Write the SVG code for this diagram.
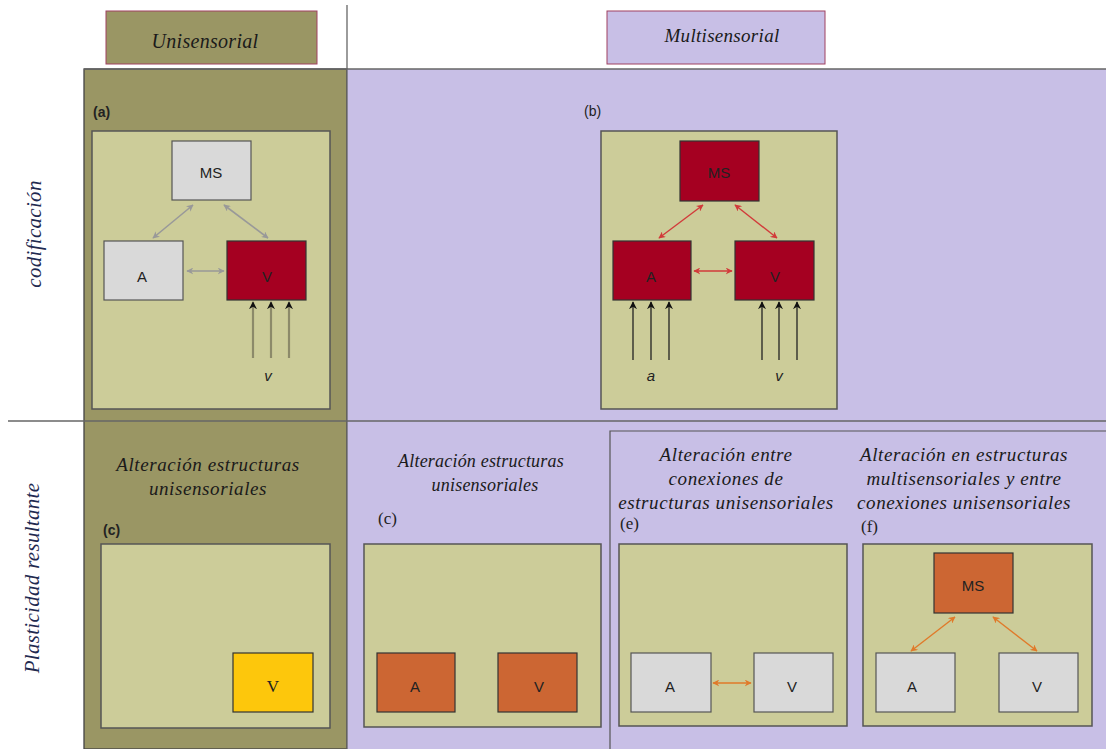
<svg xmlns="http://www.w3.org/2000/svg" width="1106" height="749" viewBox="0 0 1106 749">
  <style>
    .title { font-family: "Liberation Serif", serif; font-style: italic; font-size: 20px; letter-spacing: 0.3px; fill: #1a1a1a; text-anchor: middle; }
    .cap { font-family: "Liberation Serif", serif; font-style: italic; font-size: 19px; letter-spacing: 0.6px; fill: #1a1a1a; text-anchor: middle; }
    .cap-s { font-size: 18px; letter-spacing: 0.2px; }
    .side { font-family: "Liberation Serif", serif; font-style: italic; font-size: 21px; letter-spacing: 0.3px; fill: #1f2a50; text-anchor: middle; }
    .tag { font-family: "Liberation Sans", Arial, sans-serif; font-weight: bold; font-size: 14px; fill: #222; }
    .tagr { font-family: "Liberation Serif", serif; font-size: 17px; fill: #222; }
    .lbl { font-family: "Liberation Sans", Arial, sans-serif; font-size: 15px; fill: #222; text-anchor: middle; }
    .lbls { font-family: "Liberation Serif", serif; font-size: 17px; fill: #222; text-anchor: middle; }
    .inl { font-family: "Liberation Sans", Arial, sans-serif; font-style: italic; font-size: 15px; fill: #222; text-anchor: middle; }
    .frame { fill: #cccc99; stroke: #555; stroke-width: 1.5; }
    .grey { fill: #d9d9d9; stroke: #555; stroke-width: 1.2; }
    .red { fill: #a50021; stroke: #333; stroke-width: 1.2; }
    .orange { fill: #cc6633; stroke: #333; stroke-width: 1.2; }
    .yellow { fill: #fdc70c; stroke: #333; stroke-width: 1.2; }
    .c-grey { stroke: #999; stroke-width: 1.6; fill: none; marker-start: url(#hg); marker-end: url(#hg); }
    .c-red { stroke: #d23a3a; stroke-width: 1.4; fill: none; marker-start: url(#hr); marker-end: url(#hr); }
    .c-or { stroke: #e07a2a; stroke-width: 1.4; fill: none; marker-start: url(#ho); marker-end: url(#ho); }
    .in-a { stroke: #8c8a6a; stroke-width: 2.2; fill: none; marker-end: url(#hk); }
    .in-b { stroke: #222; stroke-width: 1.3; fill: none; marker-end: url(#hk); }
    .rule { stroke: #666; stroke-width: 1.3; fill: none; }
  </style>
  <defs>
    <marker id="hg" viewBox="0 0 10 10" refX="9" refY="5" markerWidth="7" markerHeight="7" markerUnits="userSpaceOnUse" orient="auto-start-reverse">
      <path d="M0,0 L10,5 L0,10 L3,5 Z" fill="#999"/>
    </marker>
    <marker id="hr" viewBox="0 0 10 10" refX="9" refY="5" markerWidth="7" markerHeight="7" markerUnits="userSpaceOnUse" orient="auto-start-reverse">
      <path d="M0,0 L10,5 L0,10 L3,5 Z" fill="#d23a3a"/>
    </marker>
    <marker id="ho" viewBox="0 0 10 10" refX="9" refY="5" markerWidth="7" markerHeight="7" markerUnits="userSpaceOnUse" orient="auto-start-reverse">
      <path d="M0,0 L10,5 L0,10 L3,5 Z" fill="#e07a2a"/>
    </marker>
    <marker id="hk" viewBox="0 0 10 10" refX="9" refY="5" markerWidth="8" markerHeight="8" markerUnits="userSpaceOnUse" orient="auto">
      <path d="M0,0 L10,5 L0,10 L3,5 Z" fill="#111"/>
    </marker>
  </defs>

  <rect x="0" y="0" width="1106" height="749" fill="#ffffff"/>

  <!-- column backgrounds -->
  <rect x="84" y="69" width="263" height="680" fill="#9a9664" stroke="#444" stroke-width="1.3"/>
  <rect x="347" y="69" width="759" height="680" fill="#c8bfe6"/>
  <line class="rule" x1="347" y1="5" x2="347" y2="749"/>
  <line class="rule" x1="84" y1="69" x2="1106" y2="69"/>
  <line class="rule" x1="8" y1="421" x2="1106" y2="421"/>
  <path d="M1106,431 H610 V749" fill="none" stroke="#555" stroke-width="1.2"/>

  <!-- column headers -->
  <g id="hdr-uni">
    <rect x="106" y="11" width="211" height="53" fill="#9a9664" stroke="#a04060" stroke-width="1"/>
    <text class="title" x="205" y="48">Unisensorial</text>
  </g>
  <g id="hdr-multi">
    <rect x="607" y="11" width="218" height="53" fill="#c8bfe6" stroke="#a04060" stroke-width="1"/>
    <text class="title" x="722" y="42" style="font-size:19px">Multisensorial</text>
  </g>

  <!-- row headers -->
  <text class="side" transform="translate(41,234) rotate(-90)">codificación</text>
  <text class="side" transform="translate(39,578) rotate(-90)">Plasticidad resultante</text>

  <!-- panel (a) -->
  <g id="panel-a">
    <text class="tag" x="93" y="117">(a)</text>
    <rect class="frame" x="92" y="131" width="238" height="278"/>
  </g>
  <g id="a-ms"><rect class="grey" x="172" y="141" width="79" height="59"/><text class="lbl" x="211" y="178">MS</text></g>
  <g id="a-a"><rect class="grey" x="104" y="241" width="79" height="59"/><text class="lbl" x="142" y="282">A</text></g>
  <g id="a-v"><rect class="red" x="227" y="241" width="79" height="59"/><text class="lbl" x="267" y="282">V</text></g>
  <text class="inl" x="268" y="381">v</text>

  <!-- panel (b) -->
  <g id="panel-b">
    <text class="tagr" x="584" y="116" style="font-family:'Liberation Sans',Arial,sans-serif;font-size:14px">(b)</text>
    <rect class="frame" x="601" y="131" width="236" height="278"/>
  </g>
  <g id="b-ms"><rect class="red" x="680" y="141" width="79" height="60"/><text class="lbl" x="719" y="178">MS</text></g>
  <g id="b-a"><rect class="red" x="613" y="241" width="78" height="59"/><text class="lbl" x="651" y="282">A</text></g>
  <g id="b-v"><rect class="red" x="735" y="241" width="79" height="59"/><text class="lbl" x="775" y="282">V</text></g>
  <text class="inl" x="651" y="381">a</text>
  <text class="inl" x="779" y="381">v</text>

  <!-- panel (c), unisensorial -->
  <g id="panel-c1">
    <text class="cap" x="208" y="471">Alteración estructuras</text>
    <text class="cap" x="208" y="495">unisensoriales</text>
    <text class="tag" x="103" y="535">(c)</text>
    <rect class="frame" x="101" y="544" width="229" height="184"/>
  </g>
  <g id="c1-v"><rect class="yellow" x="233" y="653" width="80" height="59"/><text class="lbls" x="273" y="692">V</text></g>

  <!-- panel (c), multisensorial -->
  <g id="panel-c2">
    <text class="cap cap-s" x="481" y="467">Alteración estructuras</text>
    <text class="cap cap-s" x="485" y="491">unisensoriales</text>
    <text class="tagr" x="378" y="524">(c)</text>
    <rect class="frame" x="364" y="544" width="237" height="183"/>
  </g>
  <g id="c2-a"><rect class="orange" x="377" y="653" width="78" height="59"/><text class="lbl" x="415" y="692">A</text></g>
  <g id="c2-v"><rect class="orange" x="498" y="653" width="79" height="59"/><text class="lbl" x="539" y="692">V</text></g>

  <!-- panel (e) -->
  <g id="panel-e">
    <text class="cap" x="726" y="461">Alteración entre</text>
    <text class="cap" x="726" y="485">conexiones de</text>
    <text class="cap" x="726" y="509">estructuras unisensoriales</text>
    <text class="tagr" x="620" y="529">(e)</text>
    <rect class="frame" x="619" y="544" width="228" height="182"/>
  </g>
  <g id="e-a"><rect class="grey" x="631" y="653" width="80" height="59"/><text class="lbl" x="670" y="692">A</text></g>
  <g id="e-v"><rect class="grey" x="754" y="653" width="79" height="59"/><text class="lbl" x="792" y="692">V</text></g>

  <!-- panel (f) -->
  <g id="panel-f">
    <text class="cap" x="964" y="461">Alteración en estructuras</text>
    <text class="cap" x="964" y="485">multisensoriales y entre</text>
    <text class="cap" x="964" y="509">conexiones unisensoriales</text>
    <text class="tagr" x="861" y="532">(f)</text>
    <rect class="frame" x="863" y="544" width="229" height="182"/>
  </g>
  <g id="f-ms"><rect class="orange" x="934" y="553" width="79" height="60"/><text class="lbl" x="973" y="591">MS</text></g>
  <g id="f-a"><rect class="grey" x="876" y="653" width="79" height="59"/><text class="lbl" x="912" y="692">A</text></g>
  <g id="f-v"><rect class="grey" x="999" y="653" width="79" height="59"/><text class="lbl" x="1037" y="692">V</text></g>

  <!-- connectors -->
  <g id="connectors">
    <line class="c-grey" x1="193" y1="205" x2="153" y2="238"/>
    <line class="c-grey" x1="224" y1="205" x2="268" y2="238"/>
    <line class="c-grey" x1="187" y1="271" x2="224" y2="271"/>
    <line class="in-a" x1="253" y1="358" x2="253" y2="302"/>
    <line class="in-a" x1="271" y1="358" x2="271" y2="302"/>
    <line class="in-a" x1="289" y1="358" x2="289" y2="302"/>

    <line class="c-red" x1="703" y1="205" x2="659" y2="238"/>
    <line class="c-red" x1="735" y1="205" x2="777" y2="238"/>
    <line class="c-red" x1="694" y1="271" x2="732" y2="271"/>
    <line class="in-b" x1="633" y1="360" x2="633" y2="302"/>
    <line class="in-b" x1="651" y1="360" x2="651" y2="302"/>
    <line class="in-b" x1="669" y1="360" x2="669" y2="302"/>
    <line class="in-b" x1="762" y1="360" x2="762" y2="302"/>
    <line class="in-b" x1="779" y1="360" x2="779" y2="302"/>
    <line class="in-b" x1="797" y1="360" x2="797" y2="302"/>

    <line class="c-or" x1="713" y1="683" x2="751" y2="683"/>
    <line class="c-or" x1="955" y1="617" x2="911" y2="651"/>
    <line class="c-or" x1="993" y1="617" x2="1037" y2="651"/>
  </g>
</svg>
